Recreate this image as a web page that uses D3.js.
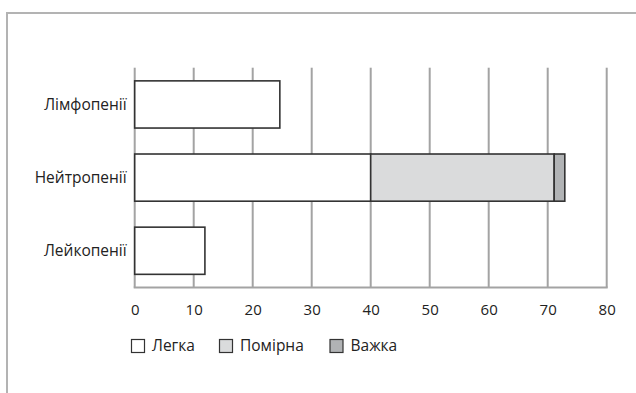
<!DOCTYPE html>
<html>
<head>
<meta charset="utf-8">
<script src="https://cdn.jsdelivr.net/npm/d3@7"></script>
<style>
  html, body { margin: 0; padding: 0; background: #fff; }
  svg { display: block; }
  text { font-family: "Open Sans", sans-serif; fill: #222; }
</style>
</head>
<body>
<svg id="chart" width="636" height="393"></svg>
<script>
// ---- data ----
const categories = ["Лімфопенії", "Нейтропенії", "Лейкопенії"];
const seriesNames = ["Легка", "Помірна", "Важка"];
const legka   = [24.6, 40.0, 11.9];
const pomirna = [0, 31.1, 0];
const vazhka  = [0, 1.8, 0];
const xTicks  = [0, 10, 20, 30, 40, 50, 60, 70, 80];
const seriesColors = ["#ffffff", "#dadbdc", "#b1b3b5"];

// ---- layout ----
const svg = d3.select("#chart");
const plot = { left: 134.7, right: 606.7, top: 67.7, bottom: 287.5 };
const FONT = "'Open Sans', sans-serif";

// outer frame (only top and left visible in the crop)
svg.append("path")
  .attr("d", `M7,393 L7,13 L636,13`)
  .attr("fill", "none").attr("stroke", "#b3b3b3").attr("stroke-width", 2);

const x = d3.scaleLinear().domain([0, 80]).range([plot.left, plot.right]);
const y = d3.scaleBand().domain(categories).range([plot.top, plot.bottom])
  .paddingInner(0.355).paddingOuter(0.18);

// gridlines
svg.append("g").selectAll("line").data(xTicks).join("line")
  .attr("x1", d => x(d)).attr("x2", d => x(d))
  .attr("y1", plot.top).attr("y2", plot.bottom)
  .attr("stroke", "#a3a3a3").attr("stroke-width", 2);

// x axis baseline
svg.append("line")
  .attr("x1", plot.left - 1).attr("x2", plot.right + 1)
  .attr("y1", plot.bottom).attr("y2", plot.bottom)
  .attr("stroke", "#a3a3a3").attr("stroke-width", 2);

// x tick labels
const xAxis = d3.axisBottom(x).tickValues(xTicks).tickSize(0).tickPadding(0);
const gx = svg.append("g").attr("transform", `translate(0,${plot.bottom + 22})`).call(xAxis);
gx.select(".domain").remove();
gx.selectAll("text").attr("font-size", 15).attr("fill", "#222")
  .attr("font-family", FONT).attr("dy", "0.35em");

// stacked bars
const rows = categories.map((c, i) => ({ cat: c, "Легка": legka[i], "Помірна": pomirna[i], "Важка": vazhka[i] }));
const stack = d3.stack().keys(seriesNames)(rows);
const color = d3.scaleOrdinal().domain(seriesNames).range(seriesColors);

svg.append("g").selectAll("g").data(stack).join("g")
  .attr("fill", d => color(d.key))
  .selectAll("rect").data(d => d.filter(p => p[1] - p[0] > 0)).join("rect")
  .attr("x", d => x(d[0]))
  .attr("width", d => x(d[1]) - x(d[0]))
  .attr("y", d => y(d.data.cat))
  .attr("height", y.bandwidth())
  .attr("stroke", "#333").attr("stroke-width", 1.6);

// category labels
svg.append("g").selectAll("text").data(categories).join("text")
  .attr("x", plot.left - 8)
  .attr("y", d => y(d) + y.bandwidth() / 2)
  .attr("dy", "0.35em")
  .attr("text-anchor", "end")
  .attr("font-size", 15.5)
  .text(d => d);

// legend
const legendX = [131.5, 219.5, 330];
const lg = svg.append("g").selectAll("g").data(seriesNames).join("g")
  .attr("transform", (d, i) => `translate(${legendX[i]},339.5)`);
lg.append("rect").attr("width", 13).attr("height", 13)
  .attr("fill", d => color(d)).attr("stroke", "#333").attr("stroke-width", 1.2);
lg.append("text").attr("x", 20.5).attr("y", 6.5).attr("dy", "0.35em")
  .attr("font-size", 15.5).text(d => d);
</script>
</body>
</html>
